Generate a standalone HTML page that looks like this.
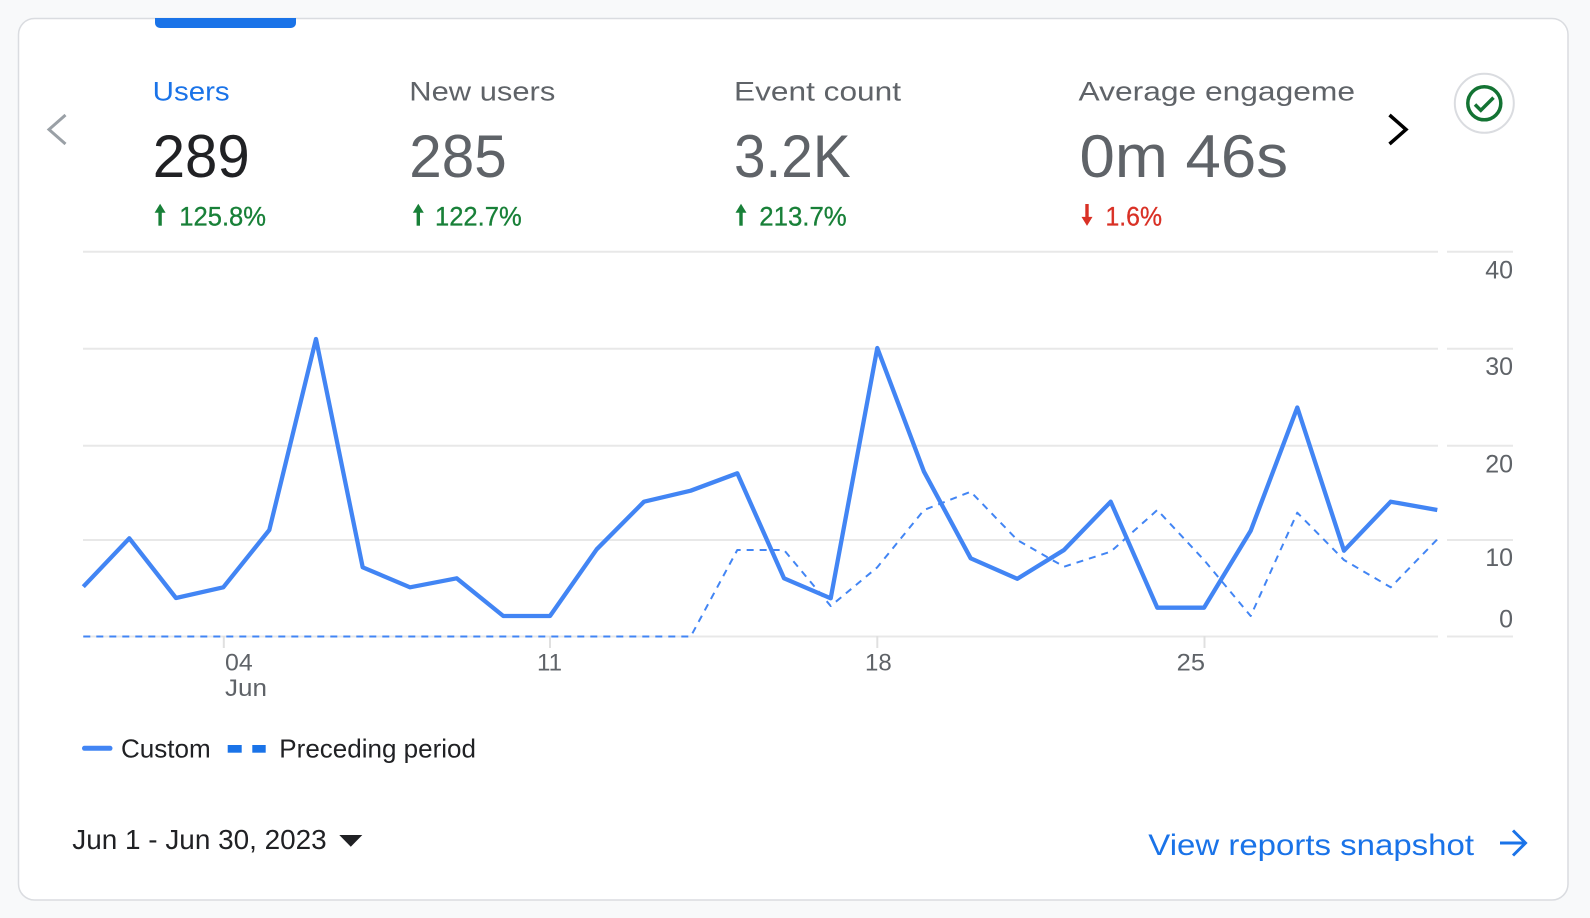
<!DOCTYPE html>
<html><head><meta charset="utf-8"><style>
html,body{margin:0;padding:0;background:#f8f9fa;}
svg{display:block;font-family:"Liberation Sans",Arial,sans-serif;}
</style></head><body>
<svg width="1590" height="918" viewBox="0 0 1590 918" xmlns="http://www.w3.org/2000/svg">
<rect x="0" y="0" width="1590" height="918" fill="#f8f9fa"/>
<rect x="18.5" y="18.5" width="1549.5" height="881.5" rx="16" ry="16" fill="#ffffff" stroke="#dadce0" stroke-width="1.5"/>
<path d="M155 18 H296 V23 a5 5 0 0 1 -5 5 H160 a5 5 0 0 1 -5 -5 Z" fill="#1a73e8"/>

<!-- chevrons -->
<polyline points="65.5,115 49,129.5 65.5,144" fill="none" stroke="#9aa0a6" stroke-width="3"/>
<polyline points="1389.5,115 1406,129.5 1389.5,144" fill="none" stroke="#000" stroke-width="3.5"/>

<!-- check circle -->
<circle cx="1484.3" cy="103.3" r="29.5" fill="#fff" stroke="#dadce0" stroke-width="2"/>
<circle cx="1484.3" cy="103.3" r="16.5" fill="none" stroke="#137333" stroke-width="3.5"/>
<polyline points="1475,104.5 1480.8,110.3 1493.5,97.6" fill="none" stroke="#137333" stroke-width="3.5"/>

<!-- header labels -->
<text x="152.7" y="100.5" font-size="27" fill="#1a73e8" textLength="77" lengthAdjust="spacingAndGlyphs">Users</text>
<text x="409.3" y="100.5" font-size="27" fill="#5f6368" textLength="146" lengthAdjust="spacingAndGlyphs">New users</text>
<text x="734" y="100.5" font-size="27" fill="#5f6368" textLength="167" lengthAdjust="spacingAndGlyphs">Event count</text>
<text x="1078.5" y="100.5" font-size="27" fill="#5f6368" textLength="276.5" lengthAdjust="spacingAndGlyphs">Average engageme</text>

<!-- big numbers -->
<text x="152.7" y="177" font-size="60" fill="#202124" textLength="97" lengthAdjust="spacingAndGlyphs">289</text>
<text x="409.3" y="177" font-size="60" fill="#5f6368" textLength="97.4" lengthAdjust="spacingAndGlyphs">285</text>
<text x="734" y="177" font-size="60" fill="#5f6368" textLength="116.7" lengthAdjust="spacingAndGlyphs">3.2K</text>
<text x="1079.5" y="177" font-size="60" fill="#5f6368" textLength="208.5" lengthAdjust="spacingAndGlyphs">0m 46s</text>

<!-- percentages -->
<g fill="#188038">
<rect x="158.4" y="210" width="3.4" height="15.7"/><polygon points="154.6,212.8 160.1,203.8 165.6,212.8"/>
<rect x="416.6" y="210" width="3.4" height="15.7"/><polygon points="412.8,212.8 418.3,203.8 423.8,212.8"/>
<rect x="739.3" y="210" width="3.4" height="15.7"/><polygon points="735.5,212.8 741,203.8 746.5,212.8"/>
</g>
<g fill="#d93025">
<rect x="1085.3" y="204" width="3.4" height="15.7"/><polygon points="1081.5,216.9 1087,225.9 1092.5,216.9"/>
</g>
<g font-size="27" stroke-width="0.3">
<text x="179.3" y="225.7" fill="#188038" stroke="#188038" textLength="86.7" lengthAdjust="spacingAndGlyphs">125.8%</text>
<text x="435" y="225.7" fill="#188038" stroke="#188038" textLength="86.7" lengthAdjust="spacingAndGlyphs">122.7%</text>
<text x="759.3" y="225.7" fill="#188038" stroke="#188038" textLength="87.4" lengthAdjust="spacingAndGlyphs">213.7%</text>
<text x="1105.5" y="225.7" fill="#d93025" stroke="#d93025" textLength="56.5" lengthAdjust="spacingAndGlyphs">1.6%</text>
</g>

<!-- gridlines -->
<g stroke="#e8e8e8" stroke-width="2">
<line x1="83" y1="251.7" x2="1438" y2="251.7"/><line x1="1447" y1="251.7" x2="1513" y2="251.7"/>
<line x1="83" y1="348.7" x2="1438" y2="348.7"/><line x1="1447" y1="348.7" x2="1513" y2="348.7"/>
<line x1="83" y1="445.7" x2="1438" y2="445.7"/><line x1="1447" y1="445.7" x2="1513" y2="445.7"/>
<line x1="83" y1="540" x2="1438" y2="540"/><line x1="1447" y1="540" x2="1513" y2="540"/>
<line x1="83" y1="636.5" x2="1438" y2="636.5"/><line x1="1447" y1="636.5" x2="1513" y2="636.5"/>
</g>
<g stroke="#e0e0e0" stroke-width="2">
<line x1="223.8" y1="636" x2="223.8" y2="648"/>
<line x1="550" y1="636" x2="550" y2="648"/>
<line x1="877.3" y1="636" x2="877.3" y2="648"/>
<line x1="1204.5" y1="636" x2="1204.5" y2="648"/>
</g>

<!-- y labels -->
<g font-size="25" fill="#5f6368" text-anchor="end">
<text x="1513" y="278.3">40</text>
<text x="1513" y="375">30</text>
<text x="1513" y="472.3">20</text>
<text x="1513" y="566">10</text>
<text x="1513" y="627.7">0</text>
</g>

<!-- x labels -->
<g font-size="24" fill="#5f6368">
<text x="225" y="670.7" textLength="27.7" lengthAdjust="spacingAndGlyphs">04</text>
<text x="225" y="696" textLength="42" lengthAdjust="spacingAndGlyphs">Jun</text>
<text x="537" y="670.7" textLength="25" lengthAdjust="spacingAndGlyphs">11</text>
<text x="865" y="670.7" textLength="26.7" lengthAdjust="spacingAndGlyphs">18</text>
<text x="1176.7" y="670.7" textLength="28.3" lengthAdjust="spacingAndGlyphs">25</text>
</g>

<!-- preceding period (dashed) -->
<polyline fill="none" stroke="#4285f4" stroke-width="2" stroke-dasharray="7 6" stroke-linejoin="round"
points="83.3,636.5 690.7,636.5 737.3,550 784,550 830.7,606 877.3,567.3 924,510 970.7,491.7 1017.3,540 1064,566.7 1110.7,551.7 1157.3,510 1204,560 1250.7,616 1297.3,512.7 1344,560 1390.7,587.3 1437.3,539.3"/>

<!-- custom (solid) -->
<polyline fill="none" stroke="#4285f4" stroke-width="4.3" stroke-linejoin="round"
points="83.3,586.7 129.3,538.3 176,598 223.3,587.3 269.3,530 316,339 362.7,567.3 410,587.3 456.7,578.3 503.3,616 550,616 596.7,549.3 644,501.7 690.7,490.7 737.3,473.3 784,578.3 830.7,598.3 877.3,348 924,471.7 970.7,558.3 1017.3,578.8 1064,550 1110.7,501.7 1157.3,607.7 1204,607.7 1250.7,530.7 1297.3,407.5 1344,550.7 1390.7,501.7 1437.3,510"/>

<!-- legend -->
<line x1="84.5" y1="748.3" x2="110" y2="748.3" stroke="#4285f4" stroke-width="5" stroke-linecap="round"/>
<text x="121" y="757.3" font-size="26" fill="#202124" textLength="89.7" lengthAdjust="spacingAndGlyphs">Custom</text>
<rect x="227.7" y="745" width="14" height="7.7" fill="#1a73e8"/>
<rect x="252.3" y="745" width="13.4" height="7.7" fill="#1a73e8"/>
<text x="279.3" y="757.3" font-size="26" fill="#202124" textLength="196.7" lengthAdjust="spacingAndGlyphs">Preceding period</text>

<!-- date range -->
<text x="72.3" y="849" font-size="28" fill="#202124" textLength="254.4" lengthAdjust="spacingAndGlyphs">Jun 1 - Jun 30, 2023</text>
<polygon points="339.3,835 362.3,835 350.8,846.7" fill="#202124"/>

<!-- view reports -->
<text x="1148.3" y="855" font-size="30" fill="#1a73e8" textLength="325.7" lengthAdjust="spacingAndGlyphs">View reports snapshot</text>
<g stroke="#1a73e8" stroke-width="3" fill="none">
<line x1="1500" y1="843" x2="1524" y2="843"/>
<polyline points="1513,830.5 1525.5,843 1513,855.5"/>
</g>
</svg>
</body></html>
